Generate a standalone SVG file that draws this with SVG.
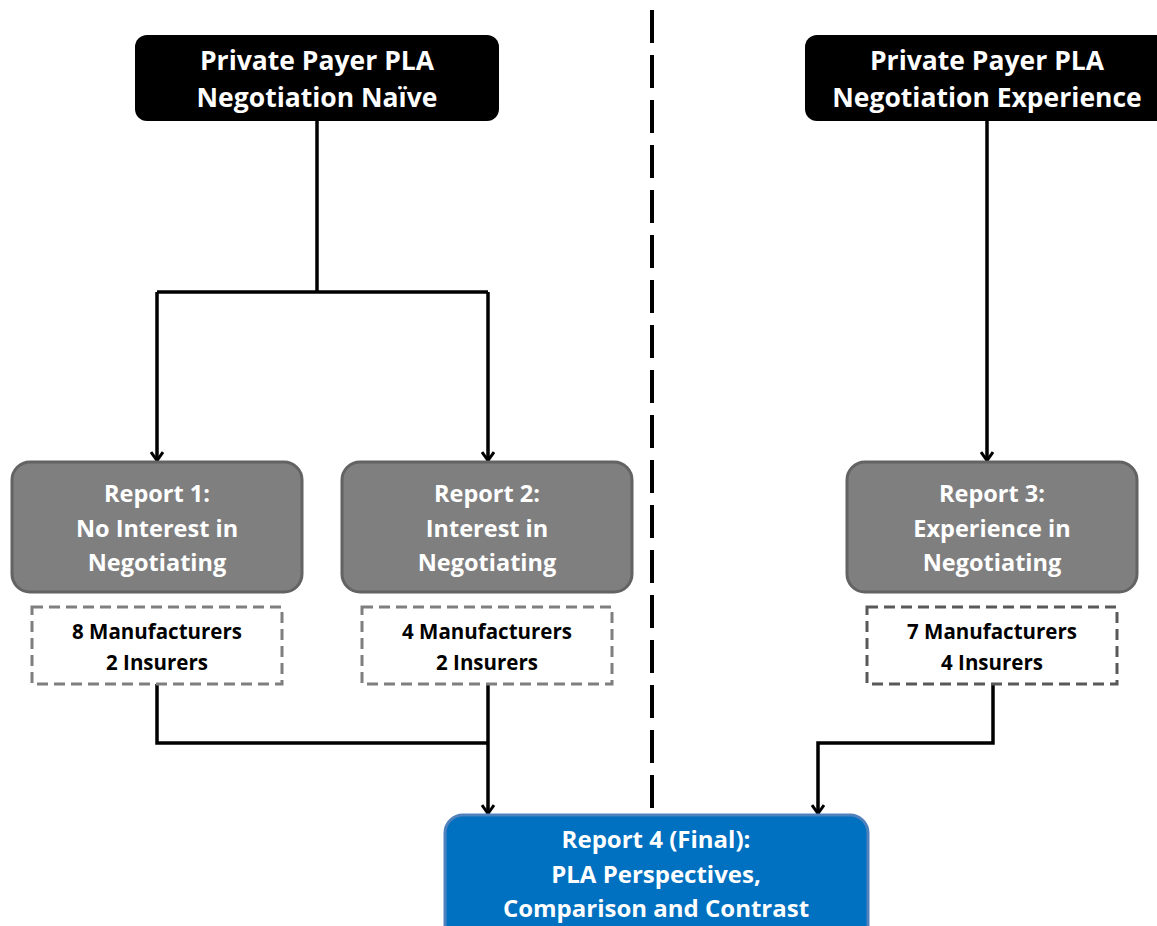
<svg xmlns="http://www.w3.org/2000/svg" width="1157" height="926" viewBox="0 0 1157 926">
<style>
text{font-family:"Open Sans","Liberation Sans",sans-serif;font-weight:bold;text-anchor:middle}
.hdr{fill:#000}
.hdr-t{fill:#fff;font-size:26.5px}
.rep{fill:#7f7f7f;stroke:#636363;stroke-width:3}
.rep-t{fill:#fff;font-size:23.5px}
.fin-t{fill:#fff;font-size:24px}
.cnt{fill:#fff;stroke:#7f7f7f;stroke-width:3;stroke-dasharray:11 6}
.cnt-t{fill:#000;font-size:20.5px}
.fin{fill:#0070c0;stroke:#4f81bd;stroke-width:3}
.line{fill:none;stroke:#000;stroke-width:3.5}
.div{fill:none;stroke:#000;stroke-width:4;stroke-dasharray:33 12}
</style>
<defs>
<marker id="arr" viewBox="0 0 14 12" refX="7" refY="11" markerWidth="14" markerHeight="12" markerUnits="userSpaceOnUse">
<path d="M1,2 L7,10.5 L13,2" fill="none" stroke="#000" stroke-width="3"/>
</marker>
</defs>
<g id="connectors">
<line class="div" x1="652" y1="10" x2="652" y2="812"/>
<path class="line" d="M317,121 V292"/>
<path class="line" d="M157,292 H488"/>
<path class="line" d="M157,292 V461" marker-end="url(#arr)"/>
<path class="line" d="M488,292 V461" marker-end="url(#arr)"/>
<path class="line" d="M987,121 V461" marker-end="url(#arr)"/>
<path class="line" d="M157,684 V743 H488"/>
<path class="line" d="M488,684 V814" marker-end="url(#arr)"/>
<path class="line" d="M993,684 V743 H818 V814" marker-end="url(#arr)"/>
</g>
<g id="hdr-naive">
<rect class="hdr" x="135" y="35" width="364" height="86" rx="12"/>
<text class="hdr-t" x="317" y="70">Private Payer PLA</text>
<text class="hdr-t" x="317" y="107">Negotiation Naïve</text>
</g>
<g id="hdr-exp">
<rect class="hdr" x="805" y="35" width="366" height="86" rx="12"/>
<text class="hdr-t" x="987" y="70">Private Payer PLA</text>
<text class="hdr-t" x="987" y="107">Negotiation Experience</text>
</g>
<g id="report1">
<rect class="rep" x="12" y="462" width="290" height="130" rx="18"/>
<text class="rep-t" x="157" y="502">Report 1:</text>
<text class="rep-t" x="157" y="537">No Interest in</text>
<text class="rep-t" x="157" y="571">Negotiating</text>
</g>
<g id="report2">
<rect class="rep" x="342" y="462" width="290" height="130" rx="18"/>
<text class="rep-t" x="487" y="502">Report 2:</text>
<text class="rep-t" x="487" y="537">Interest in</text>
<text class="rep-t" x="487" y="571">Negotiating</text>
</g>
<g id="report3">
<rect class="rep" x="847" y="462" width="290" height="130" rx="18"/>
<text class="rep-t" x="992" y="502">Report 3:</text>
<text class="rep-t" x="992" y="537">Experience in</text>
<text class="rep-t" x="992" y="571">Negotiating</text>
</g>
<g id="count1">
<rect class="cnt" x="32" y="607" width="250" height="77"/>
<text class="cnt-t" x="157" y="639">8 Manufacturers</text>
<text class="cnt-t" x="157" y="670">2 Insurers</text>
</g>
<g id="count2">
<rect class="cnt" x="362" y="607" width="250" height="77"/>
<text class="cnt-t" x="487" y="639">4 Manufacturers</text>
<text class="cnt-t" x="487" y="670">2 Insurers</text>
</g>
<g id="count3">
<rect class="cnt" x="867" y="607" width="250" height="77" style="stroke:#595959"/>
<text class="cnt-t" x="992" y="639">7 Manufacturers</text>
<text class="cnt-t" x="992" y="670">4 Insurers</text>
</g>
<g id="report4">
<rect class="fin" x="445" y="815" width="423" height="130" rx="18"/>
<text class="fin-t" x="656" y="848">Report 4 (Final):</text>
<text class="fin-t" x="656" y="883">PLA Perspectives,</text>
<text class="fin-t" x="656" y="917">Comparison and Contrast</text>
</g>
</svg>
